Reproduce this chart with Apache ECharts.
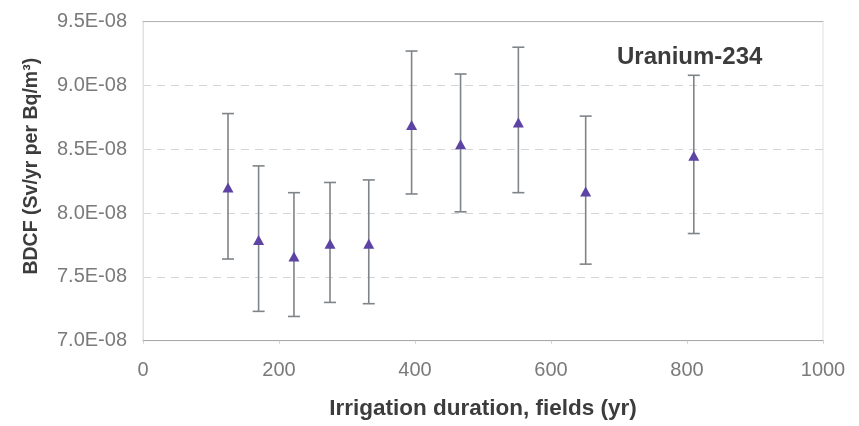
<!DOCTYPE html>
<html>
<head>
<meta charset="utf-8">
<script src="https://cdn.jsdelivr.net/npm/echarts@6/dist/echarts.min.js"></script>
<style>
html,body{margin:0;padding:0;background:#fff;}
#chart{width:859px;height:426px;}
</style>
</head>
<body>
<div id="chart"></div>
<script>
// Irrigation duration (yr)
var durations = [125, 170, 222, 275, 332, 395, 467, 552, 651, 810];
// BDCF central values (Sv/yr per Bq/m3)
var bdcf = [8.20e-8, 7.79e-8, 7.66e-8, 7.76e-8, 7.76e-8, 8.69e-8, 8.54e-8, 8.71e-8, 8.17e-8, 8.45e-8];
// Error bar lower / upper bounds
var lower = [7.64e-8, 7.23e-8, 7.19e-8, 7.30e-8, 7.29e-8, 8.15e-8, 8.01e-8, 8.16e-8, 7.60e-8, 7.84e-8];
var upper = [8.78e-8, 8.37e-8, 8.16e-8, 8.24e-8, 8.26e-8, 9.27e-8, 9.09e-8, 9.30e-8, 8.76e-8, 9.08e-8];
var xTicks = [0, 200, 400, 600, 800, 1000];
var yTicks = [7.0e-8, 7.5e-8, 8.0e-8, 8.5e-8, 9.0e-8, 9.5e-8];
var chartTitle = 'Uranium-234';
var xName = 'Irrigation duration, fields (yr)';
var yName = 'BDCF (Sv/yr per Bq/m\u00b3)';

var points = durations.map(function (d, i) { return [d, bdcf[i]]; });
var bars = durations.map(function (d, i) { return [d, lower[i], upper[i]]; });

function fmtY(v) {
  var m = Math.round(v * 1e9) / 10;
  return m.toFixed(1) + 'E-08';
}
function fmtX(v) { return String(Math.round(v)); }

var chart = echarts.init(document.getElementById('chart'), null, {renderer: 'canvas'});
var font = "'Liberation Sans', Arial, sans-serif";
chart.setOption({
  animation: false,
  backgroundColor: '#ffffff',
  title: {
    text: chartTitle,
    left: 612, top: 40,
    textStyle: {fontFamily: font, fontSize: 24, fontWeight: 'bold', color: '#3c3c3c'}
  },
  grid: {
    left: 143, right: 36, top: 21.7, bottom: 85.3,
    show: true, borderColor: '#e0e0e0', borderWidth: 1
  },
  xAxis: [{
    type: 'value',
    min: xTicks[0], max: xTicks[xTicks.length - 1], interval: 200,
    name: xName, nameLocation: 'middle', nameGap: 57,
    nameTextStyle: {fontFamily: font, fontSize: 22.5, fontWeight: 'bold', color: '#3c3c3c'},
    axisLine: {show: true, lineStyle: {color: '#a8a8a8', width: 1}},
    axisTick: {show: true, length: 3, lineStyle: {color: '#d0d0d0'}},
    axisLabel: {fontFamily: font, fontSize: 20, color: '#7a7a7a', margin: 20, formatter: fmtX},
    splitLine: {show: false}
  }, {
    type: 'value', position: 'top',
    min: xTicks[0], max: xTicks[xTicks.length - 1],
    axisLine: {show: true, lineStyle: {color: '#b4b4b4', width: 1}},
    axisTick: {show: false}, axisLabel: {show: false}, splitLine: {show: false}
  }],
  yAxis: {
    type: 'value',
    min: yTicks[0], max: yTicks[yTicks.length - 1], interval: 0.5e-8,
    name: yName, nameLocation: 'middle', nameGap: 101, nameRotate: 90,
    nameTextStyle: {fontFamily: font, fontSize: 19.5, fontWeight: 'bold', color: '#3c3c3c', padding: [0, 0, 0, 30]},
    axisLine: {show: true, lineStyle: {color: '#e0e0e0'}},
    axisTick: {show: false},
    axisLabel: {fontFamily: font, fontSize: 20, color: '#7a7a7a', margin: 16, formatter: fmtY},
    splitLine: {show: true, lineStyle: {color: '#d4d4d4', type: [8, 6], width: 1}}
  },
  series: [{
    type: 'custom',
    data: bars,
    z: 2,
    renderItem: function (params, api) {
      var x = api.value(0);
      var lo = api.coord([x, api.value(1)]);
      var hi = api.coord([x, api.value(2)]);
      var hw = 6;
      var style = {stroke: '#7f8488', lineWidth: 1.6};
      return {
        type: 'group',
        children: [
          {type: 'line', shape: {x1: lo[0], y1: lo[1], x2: hi[0], y2: hi[1]}, style: style},
          {type: 'line', shape: {x1: lo[0] - hw, y1: lo[1], x2: lo[0] + hw, y2: lo[1]}, style: style},
          {type: 'line', shape: {x1: hi[0] - hw, y1: hi[1], x2: hi[0] + hw, y2: hi[1]}, style: style}
        ]
      };
    }
  }, {
    type: 'scatter',
    data: points,
    z: 3,
    symbol: 'triangle',
    symbolSize: [11, 10],
    itemStyle: {color: '#5d43a3', opacity: 1}
  }]
});
</script>
</body>
</html>
